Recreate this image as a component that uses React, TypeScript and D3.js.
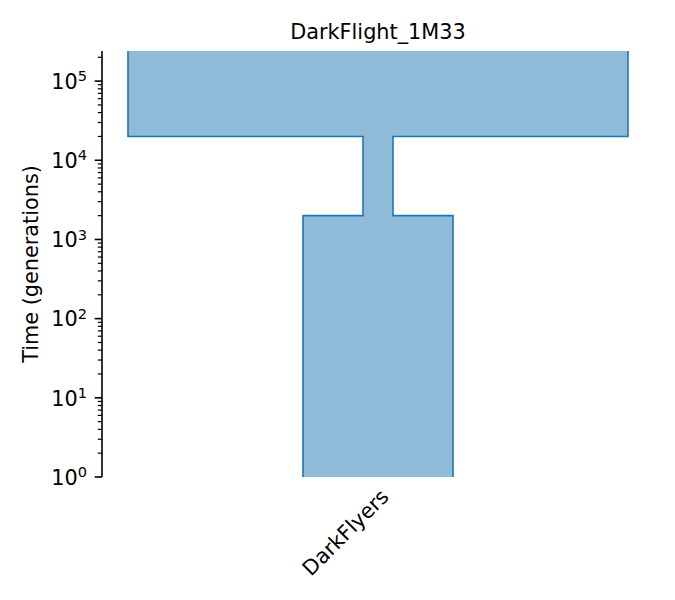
import React, { useRef, useEffect } from 'react';
import * as d3 from 'd3';

// Deme epochs, oldest first (times in generations ago, sizes in individuals)
const demeName = 'DarkFlyers';
const epochStart = [240000, 20000, 2000];
const epochEnd = [20000, 2000, 1];
const epochSize = [50000, 3000, 15000];

const yMajorExps = [0, 1, 2, 3, 4, 5];
const chartTitle = 'DarkFlight_1M33';
const yLabel = 'Time (generations)';

const width = 675;
const height = 600;
const font = '"DejaVu Sans", sans-serif';
const blue = '#1f77b4';

const App: React.FC = () => {
  const svgRef = useRef<SVGSVGElement>(null);

  useEffect(() => {
    if (!svgRef.current) return;
    const svg = d3.select(svgRef.current);
    svg.selectAll('*').remove();

    const margin = { top: 51, right: 21, bottom: 123, left: 102 };
    const innerWidth = width - margin.left - margin.right;
    const innerHeight = height - margin.top - margin.bottom;

    const yMax = epochStart[0];
    const yScale = d3.scaleLog().domain([1, yMax]).range([innerHeight, 0]);
    const halfSpan = 27600;
    const xScale = d3.scaleLinear().domain([-halfSpan, halfSpan]).range([0, innerWidth]);

    const g = svg.append('g')
      .attr('transform', `translate(${margin.left}, ${margin.top})`);

    // Build the tube outline, one side at a time
    const side = (sign: number): [number, number][] => {
      const pts: [number, number][] = [];
      epochSize.forEach((s, i) => {
        pts.push([sign * s / 2, epochStart[i]]);
        pts.push([sign * s / 2, epochEnd[i]]);
      });
      return pts;
    };
    const left = side(-1);
    const right = side(1);

    const line = d3.line<[number, number]>()
      .x(d => xScale(d[0]))
      .y(d => yScale(d[1]));

    // Fill
    g.append('path')
      .attr('d', line(left.concat(right.slice().reverse())) + 'Z')
      .attr('fill', blue)
      .attr('fill-opacity', 0.5)
      .attr('stroke', 'none');

    // Outline (sides only)
    [left, right].forEach(pts => {
      g.append('path')
        .attr('d', line(pts))
        .attr('fill', 'none')
        .attr('stroke', blue)
        .attr('stroke-width', 1.6);
    });

    // Y axis spine
    g.append('line')
      .attr('x1', 0).attr('x2', 0)
      .attr('y1', 0).attr('y2', innerHeight)
      .attr('stroke', 'black')
      .attr('stroke-width', 1.6);

    // Minor ticks
    const minor: number[] = [];
    yMajorExps.forEach(e => {
      for (let m = 2; m <= 9; m++) {
        const v = m * Math.pow(10, e);
        if (v <= yMax) minor.push(v);
      }
    });
    g.selectAll('.minor')
      .data(minor)
      .enter()
      .append('line')
      .attr('x1', -4.2).attr('x2', 0)
      .attr('y1', d => yScale(d)).attr('y2', d => yScale(d))
      .attr('stroke', 'black')
      .attr('stroke-width', 1.2);

    // Major ticks + labels
    yMajorExps.forEach(e => {
      const y = yScale(Math.pow(10, e));
      g.append('line')
        .attr('x1', -7.3).attr('x2', 0)
        .attr('y1', y).attr('y2', y)
        .attr('stroke', 'black')
        .attr('stroke-width', 1.6);
      const t = g.append('text')
        .attr('x', -15)
        .attr('y', y + 7.8)
        .attr('text-anchor', 'end')
        .style('font-family', font)
        .style('font-size', '20.8px')
        .attr('fill', 'black');
      t.append('tspan').text('10');
      t.append('tspan')
        .attr('dy', -7.6)
        .style('font-size', '14.6px')
        .text(String(e));
    });

    // Y label
    svg.append('text')
      .attr('transform', `translate(38, ${margin.top + innerHeight / 2}) rotate(-90)`)
      .attr('text-anchor', 'middle')
      .style('font-family', font)
      .style('font-size', '20.8px')
      .text(yLabel);

    // X tick label
    const cx = margin.left + xScale(0);
    svg.append('text')
      .attr('transform', `translate(${cx + 12}, ${margin.top + innerHeight + 21}) rotate(-45)`)
      .attr('text-anchor', 'end')
      .style('font-family', font)
      .style('font-size', '20.8px')
      .text(demeName);

    // Title
    svg.append('text')
      .attr('x', margin.left + innerWidth / 2)
      .attr('y', 39)
      .attr('text-anchor', 'middle')
      .style('font-family', font)
      .style('font-size', '20.8px')
      .text(chartTitle);
  }, []);

  return (
    <svg
      ref={svgRef}
      width={width}
      height={height}
      style={{ position: 'absolute', left: 0, top: 0, background: 'white' }}
    />
  );
};

export default App;
